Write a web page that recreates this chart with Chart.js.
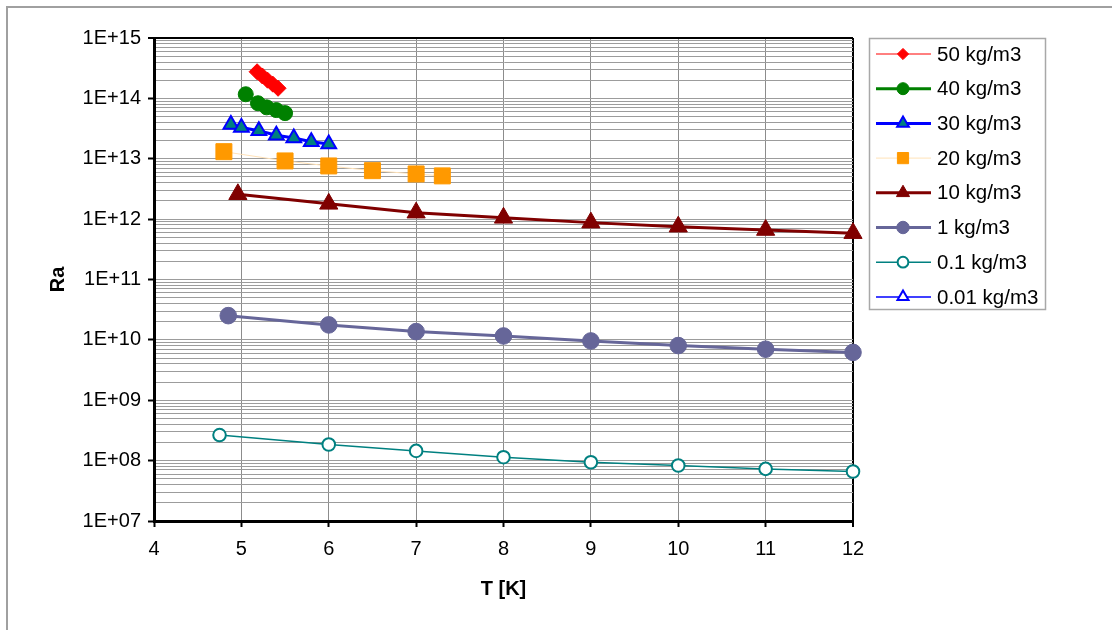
<!DOCTYPE html>
<html>
<head>
<meta charset="utf-8">
<script src="https://cdn.jsdelivr.net/npm/chart.js@4.4.1/dist/chart.umd.min.js"></script>
<style>
  html, body { margin: 0; padding: 0; background: #fff; }
  #wrap { width: 1112px; height: 630px; }
</style>
</head>
<body>
<div id="wrap"><canvas id="c" width="1112" height="630"></canvas></div>
<script>
// ---- data ----
const seriesNames = ['50 kg/m3', '40 kg/m3', '30 kg/m3', '20 kg/m3', '10 kg/m3', '1 kg/m3', '0.1 kg/m3', '0.01 kg/m3'];

const T50 = [5.18, 5.24, 5.30, 5.36, 5.42];
const Ra50 = [2.76e14, 2.35e14, 2.0e14, 1.72e14, 1.47e14];

const T40 = [5.05, 5.19, 5.29, 5.40, 5.50];
const Ra40 = [1.17e14, 8.3e13, 7.1e13, 6.4e13, 5.7e13];

const T30 = [4.88, 5.0, 5.2, 5.4, 5.6, 5.8, 6.0];
const Ra30 = [3.7e13, 3.3e13, 2.9e13, 2.45e13, 2.2e13, 1.92e13, 1.76e13];

const T20 = [4.8, 5.5, 6.0, 6.5, 7.0, 7.3];
const Ra20 = [1.31e13, 9.2e12, 7.6e12, 6.35e12, 5.6e12, 5.2e12];

const T10 = [4.96, 6, 7, 8, 9, 10, 11, 12];
const Ra10 = [2.58e12, 1.79e12, 1.28e12, 1.05e12, 8.75e11, 7.5e11, 6.6e11, 5.85e11];

const T1 = [4.85, 6, 7, 8, 9, 10, 11, 12];
const Ra1 = [2.52e10, 1.77e10, 1.37e10, 1.16e10, 9.6e9, 8.05e9, 7.0e9, 6.2e9];

const T01 = [4.75, 6, 7, 8, 9, 10, 11, 12];
const Ra01 = [2.65e8, 1.85e8, 1.45e8, 1.14e8, 9.4e7, 8.3e7, 7.3e7, 6.6e7];

const T001 = [];
const Ra001 = [];

const xTickValues = [4, 5, 6, 7, 8, 9, 10, 11, 12];
const yDecadeExponents = [7, 8, 9, 10, 11, 12, 13, 14, 15];
const yTickLabels = ['1E+07', '1E+08', '1E+09', '1E+10', '1E+11', '1E+12', '1E+13', '1E+14', '1E+15'];

// ---- helpers ----
function pts(xs, ys) { return xs.map((x, i) => ({ x: x, y: ys[i] })); }
function isDecade(v) {
  const e = Math.round(Math.log10(v));
  return Math.abs(v / Math.pow(10, e) - 1) < 1e-9;
}
const FONT = "'Liberation Sans', Arial, sans-serif";

const datasets = [
  { label: seriesNames[0], data: pts(T50, Ra50), borderColor: '#FF0000', backgroundColor: '#FF0000', borderWidth: 1,
    pointStyle: 'rectRot', pointRadius: 8, pointBorderColor: '#FF0000', pointBackgroundColor: '#FF0000', pointBorderWidth: 1, legendScale: 0.7 },
  { label: seriesNames[1], data: pts(T40, Ra40), borderColor: '#008000', backgroundColor: '#008000', borderWidth: 3,
    pointStyle: 'circle', pointRadius: 7.5, pointBorderColor: '#008000', pointBackgroundColor: '#008000', pointBorderWidth: 1, legendScale: 0.8 },
  { label: seriesNames[2], data: pts(T30, Ra30), borderColor: '#0000FF', backgroundColor: '#008080', borderWidth: 3,
    pointStyle: 'triangle', pointRadius: 8.5, pointBorderColor: '#0000FF', pointBackgroundColor: '#008080', pointBorderWidth: 2, legendScale: 0.8 },
  { label: seriesNames[3], data: pts(T20, Ra20), borderColor: '#FFE2B8', backgroundColor: '#FF9900', borderWidth: 1,
    pointStyle: 'rect', pointRadius: 11.3, pointBorderColor: '#FF9900', pointBackgroundColor: '#FF9900', pointBorderWidth: 1, legendScale: 0.7 },
  { label: seriesNames[4], data: pts(T10, Ra10), borderColor: '#800000', backgroundColor: '#800000', borderWidth: 3,
    pointStyle: 'triangle', pointRadius: 10.5, pointBorderColor: '#800000', pointBackgroundColor: '#800000', pointBorderWidth: 1, legendScale: 0.72 },
  { label: seriesNames[5], data: pts(T1, Ra1), borderColor: '#666699', backgroundColor: '#666699', borderWidth: 3,
    pointStyle: 'circle', pointRadius: 8.3, pointBorderColor: '#666699', pointBackgroundColor: '#666699', pointBorderWidth: 1, legendScale: 0.75 },
  { label: seriesNames[6], data: pts(T01, Ra01), borderColor: '#008080', backgroundColor: '#FFFFFF', borderWidth: 1.5,
    pointStyle: 'circle', pointRadius: 6.3, pointBorderColor: '#008080', pointBackgroundColor: '#FFFFFF', pointBorderWidth: 2, legendScale: 0.85 },
  { label: seriesNames[7], data: pts(T001, Ra001), borderColor: '#0000FF', backgroundColor: '#FFFFFF', borderWidth: 1.5,
    pointStyle: 'triangle', pointRadius: 7.5, pointBorderColor: '#0000FF', pointBackgroundColor: '#FFFFFF', pointBorderWidth: 2, legendScale: 0.85 }
];
datasets.forEach(d => { d.fill = false; d.tension = 0; d.clip = false; d.pointHoverRadius = d.pointRadius; });

function drawMarker(ctx, style, r, x, y, fill, stroke, bw) {
  if (Chart.helpers && Chart.helpers.drawPoint) {
    ctx.save();
    ctx.fillStyle = fill; ctx.strokeStyle = stroke; ctx.lineWidth = bw;
    Chart.helpers.drawPoint(ctx, { pointStyle: style, radius: r, rotation: 0, borderWidth: bw }, x, y);
    ctx.restore();
    return;
  }
  ctx.save();
  ctx.fillStyle = fill; ctx.strokeStyle = stroke; ctx.lineWidth = bw;
  ctx.beginPath();
  if (style === 'circle') ctx.arc(x, y, r, 0, Math.PI * 2);
  else if (style === 'rect') { const s = r * Math.SQRT1_2; ctx.rect(x - s, y - s, 2 * s, 2 * s); }
  else if (style === 'rectRot') { ctx.moveTo(x, y - r); ctx.lineTo(x + r, y); ctx.lineTo(x, y + r); ctx.lineTo(x - r, y); ctx.closePath(); }
  else if (style === 'triangle') {
    ctx.moveTo(x, y - r); ctx.lineTo(x + r * Math.sin(Math.PI * 2 / 3), y - r * Math.cos(Math.PI * 2 / 3));
    ctx.lineTo(x - r * Math.sin(Math.PI * 2 / 3), y - r * Math.cos(Math.PI * 2 / 3)); ctx.closePath();
  }
  ctx.fill(); if (bw > 0) ctx.stroke();
  ctx.restore();
}

const framePlugin = {
  id: 'frame',
  beforeDraw(chart) {
    const ctx = chart.ctx;
    ctx.save();
    ctx.fillStyle = '#fff';
    ctx.fillRect(0, 0, chart.width, chart.height);
    ctx.strokeStyle = '#a0a0a0';
    ctx.lineWidth = 2;
    ctx.beginPath();
    ctx.moveTo(1112, 7); ctx.lineTo(7, 7); ctx.lineTo(7, 630);
    ctx.stroke();
    ctx.restore();
  }
};

const legendPlugin = {
  id: 'xlLegend',
  afterDraw(chart) {
    const ctx = chart.ctx;
    const bx = 869.5, by = 38.5, bw = 176, bh = 271;
    ctx.save();
    ctx.fillStyle = '#fff';
    ctx.fillRect(bx, by, bw, bh);
    ctx.strokeStyle = '#a8a8a8';
    ctx.lineWidth = 1.5;
    ctx.strokeRect(bx, by, bw, bh);
    const rowH = 34.7;
    chart.data.datasets.forEach((d, i) => {
      const y = 54 + i * rowH;
      ctx.strokeStyle = d.borderColor;
      ctx.lineWidth = d.borderWidth;
      ctx.beginPath();
      ctx.moveTo(876, y); ctx.lineTo(931, y);
      ctx.stroke();
      drawMarker(ctx, d.pointStyle, d.pointRadius * d.legendScale, 903, y, d.pointBackgroundColor, d.pointBorderColor, d.pointBorderWidth);
      ctx.fillStyle = '#000';
      ctx.font = "20.5px " + FONT;
      ctx.textBaseline = 'middle';
      ctx.textAlign = 'left';
      ctx.fillText(d.label, 937, y + 1);
    });
    ctx.restore();
  }
};

new Chart(document.getElementById('c'), {
  type: 'line',
  data: { datasets: datasets },
  plugins: [framePlugin, legendPlugin],
  options: {
    responsive: false,
    animation: false,
    devicePixelRatio: 1,
    layout: { padding: { left: 46, top: 38, right: 259, bottom: 29 } },
    plugins: { legend: { display: false }, tooltip: { enabled: false } },
    scales: {
      x: {
        type: 'linear',
        min: xTickValues[0],
        max: xTickValues[xTickValues.length - 1],
        afterBuildTicks: (scale) => { scale.ticks = xTickValues.map(v => ({ value: v })); },
        afterFit: (scale) => { scale.height = 80; },
        ticks: { font: { family: FONT, size: 20 }, color: '#000', padding: 10, autoSkip: false, maxRotation: 0,
                 callback: (v) => String(v) },
        grid: {
          color: (c) => (c.tick && c.tick.value === 12) ? '#000' : '#8c8c8c',
          lineWidth: (c) => (c.tick && c.tick.value === 12) ? 2 : 1,
          tickColor: '#000', tickLength: 6, tickWidth: 2, drawTicks: true
        },
        border: { display: true, color: '#000', width: 3 },
        title: { display: true, text: 'T [K]', color: '#000', font: { family: FONT, size: 20, weight: 'bold' }, padding: 0 }
      },
      y: {
        type: 'logarithmic',
        min: Math.pow(10, yDecadeExponents[0]),
        max: Math.pow(10, yDecadeExponents[yDecadeExponents.length - 1]),
        afterBuildTicks: (scale) => {
          const t = [];
          for (let k = 0; k < yDecadeExponents.length - 1; k++) {
            const base = Math.pow(10, yDecadeExponents[k]);
            for (let m = 1; m <= 9; m++) t.push({ value: m * base });
          }
          t.push({ value: Math.pow(10, yDecadeExponents[yDecadeExponents.length - 1]) });
          scale.ticks = t;
        },
        afterFit: (scale) => { scale.width = 108; },
        ticks: {
          font: { family: FONT, size: 20 }, color: '#000', padding: 7, autoSkip: false,
          callback: (v) => {
            if (!isDecade(v)) return '';
            const e = Math.round(Math.log10(v));
            const idx = yDecadeExponents.indexOf(e);
            return idx >= 0 ? yTickLabels[idx] : '';
          }
        },
        grid: {
          color: (c) => {
            if (!c.tick) return '#9c9c9c';
            if (c.tick.value === 1e15) return '#000';
            return '#9c9c9c';
          },
          lineWidth: (c) => (c.tick && c.tick.value === 1e15) ? 2 : 1,
          tickColor: (c) => (c.tick && isDecade(c.tick.value)) ? '#000' : 'rgba(0,0,0,0)',
          tickLength: 6, tickWidth: 2, drawTicks: true
        },
        border: { display: true, color: '#000', width: 3 },
        title: { display: true, text: 'Ra', color: '#000', font: { family: FONT, size: 20, weight: 'bold' }, padding: 0 }
      }
    }
  }
});
</script>
</body>
</html>
